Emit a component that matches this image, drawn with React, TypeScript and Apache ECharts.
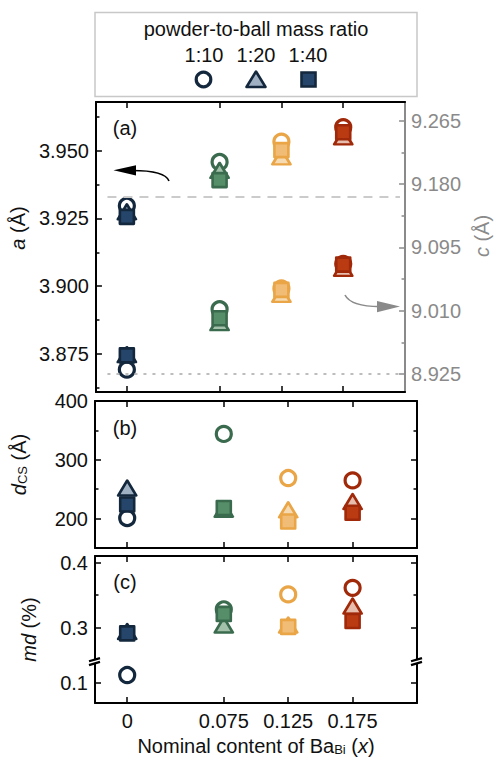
import React, { useEffect, useRef } from 'react';
import * as echarts from 'echarts';

// ---------- data ----------
const xValues = [0, 0.075, 0.125, 0.175];
const xTickLabels = ['0', '0.075', '0.125', '0.175'];
const ratioLabels = ['1:10', '1:20', '1:40'];

// panel (a): lattice parameter a (left axis)
const aRatio10 = [3.9297, 3.9459, 3.9534, 3.9588];
const aRatio20 = [3.9275, 3.9428, 3.9478, 3.9552];
const aRatio40 = [3.9256, 3.9392, 3.9503, 3.9569];
// panel (a): lattice parameter c (right axis)
const cRatio10 = [8.931, 9.012, 9.04, 9.073];
const cRatio20 = [8.951, 8.994, 9.032, 9.067];
const cRatio40 = [8.95, 9.0, 9.038, 9.072];
// panel (b): coherent scattering domain size
const dRatio10 = [201, 344, 269, 265];
const dRatio20 = [252, 216, 215, 229];
const dRatio40 = [224, 218, 195, 210];
// panel (c): microdeformation
const mdRatio10 = [0.112, 0.328, 0.351, 0.361];
const mdRatio20 = [0.294, 0.304, 0.304, 0.333];
const mdRatio40 = [0.291, 0.321, 0.301, 0.31];

// reference lines in panel (a)
const refA = 3.933;
const refC = 8.925;

// tick values
const aTicks = [3.875, 3.9, 3.925, 3.95];
const aMinor = [3.8625, 3.8875, 3.9125, 3.9375, 3.9625];
const cTicks = [8.925, 9.01, 9.095, 9.18, 9.265];
const cMinor = [8.9675, 9.0525, 9.1375, 9.2225];
const dTicks = [200, 300, 400];
const dMinor = [250, 350];
const mdTicks = [0.1, 0.3, 0.4];
const mdMinor = [0.35];

// colours per composition
const edgeColors = ['#14283d', '#3b6b4e', '#e9a546', '#a0290a'];
const squareFills = ['#25466a', '#568e69', '#f1bd76', '#ba3a12'];
const triangleFills = ['#a0b1c4', '#a3c0ab', '#f6dbb2', '#e7bdad'];

const FONT = '"Liberation Sans", Arial, Helvetica, sans-serif';
const X_MIN = -0.025;
const X_MAX = 0.225;
const GRAY = '#8a8a8a';

function xAxisFor(grid: number, position: string, showLabels: boolean, name?: string) {
  return {
    type: 'value',
    gridIndex: grid,
    position,
    min: X_MIN,
    max: X_MAX,
    axisLine: { show: true, onZero: false, lineStyle: { color: '#000', width: 2 } },
    axisTick: { show: true, inside: true, length: 6, customValues: xValues, lineStyle: { color: '#000', width: 1.5 } },
    axisLabel: {
      show: showLabels,
      customValues: xValues,
      formatter: (v: number) => {
        const i = xValues.findIndex((x) => Math.abs(x - v) < 1e-9);
        return i >= 0 ? xTickLabels[i] : '';
      },
      fontSize: 20,
      fontFamily: FONT,
      color: '#111',
      margin: 8,
    },
    splitLine: { show: false },
    name,
    nameLocation: 'middle',
    nameGap: 33,
    nameTextStyle: {
      fontSize: 20,
      fontFamily: FONT,
      color: '#111',
      rich: {
        sub: { fontSize: 13, fontFamily: FONT, color: '#111', verticalAlign: 'bottom', lineHeight: 6 },
        i: { fontSize: 20, fontFamily: FONT, color: '#111', fontStyle: 'italic' },
      },
    },
  };
}

function yAxisFor(o: any) {
  return {
    type: 'value',
    gridIndex: o.grid,
    position: o.pos,
    min: o.min,
    max: o.max,
    ...(o.breaks ? { breaks: o.breaks, breakArea: { show: false } } : {}),
    axisLine: { show: !!o.line, onZero: false, lineStyle: { color: o.color, width: 2 } },
    axisTick: { show: true, inside: true, length: o.tickLen, customValues: o.ticks, lineStyle: { color: o.color, width: 1.5 } },
    axisLabel: {
      show: !!o.fmt,
      customValues: o.ticks,
      formatter: o.fmt,
      fontSize: 20,
      fontFamily: FONT,
      color: o.labelColor || o.color,
      margin: o.margin ?? 7,
    },
    splitLine: { show: false },
    name: o.name,
    nameLocation: 'middle',
    nameGap: o.nameGap,
    nameRotate: 90,
    nameTextStyle: {
      fontSize: 20,
      fontFamily: FONT,
      color: o.labelColor || o.color,
      padding: o.namePad || 0,
      rich: {
        i: { fontSize: 20, fontFamily: FONT, fontStyle: 'italic', color: o.labelColor || o.color },
        sub: { fontSize: 13, fontFamily: FONT, color: o.labelColor || o.color, verticalAlign: 'bottom', lineHeight: 6 },
      },
    },
  };
}

function scatter(kind: 'circle' | 'triangle' | 'rect', values: number[], xIdx: number, yIdx: number, extra?: any) {
  const fill = kind === 'circle' ? null : kind === 'triangle' ? triangleFills : squareFills;
  return {
    type: 'scatter',
    xAxisIndex: xIdx,
    yAxisIndex: yIdx,
    symbol: kind,
    symbolSize: kind === 'circle' ? 15 : kind === 'triangle' ? [18, 15] : 14,
    z: kind === 'circle' ? 2 : kind === 'triangle' ? 3 : 4,
    data: xValues.map((x, i) => ({
      value: [x, values[i]],
      itemStyle: {
        color: fill ? fill[i] : 'rgba(255,255,255,0)',
        borderColor: edgeColors[i],
        borderWidth: kind === 'circle' ? 3.2 : 2.6,
        borderJoin: 'round',
        opacity: 1,
      },
    })),
    emphasis: { disabled: true },
    ...(extra || {}),
  };
}

export default function App() {
  const ref = useRef<HTMLDivElement>(null);
  useEffect(() => {
    if (!ref.current) return;
    const chart = echarts.init(ref.current, undefined, { renderer: 'svg' });

    const grids = [
      { left: 95, width: 322, top: 102, height: 290 },
      { left: 95, width: 322, top: 401, height: 147 },
      { left: 95, width: 322, top: 556, height: 147 },
    ];

    const xAxis = [
      xAxisFor(0, 'bottom', false), // 0
      xAxisFor(0, 'top', false), // 1
      xAxisFor(1, 'bottom', false), // 2
      xAxisFor(1, 'top', false), // 3
      xAxisFor(2, 'bottom', true, 'Nominal content of Ba{sub|Bi} ({i|x})'), // 4
      xAxisFor(2, 'top', false), // 5
    ];

    const mdBreak = [{ start: 0.132, end: 0.247, gap: 0 }];
    const yAxis = [
      // grid 0
      yAxisFor({ grid: 0, pos: 'left', min: 3.8608, max: 3.9681, line: true, color: '#000', labelColor: '#111', tickLen: 6, ticks: aTicks, fmt: (v: number) => v.toFixed(3), name: '{i|a} (Å)', nameGap: 66, namePad: [0, 0, 0, 38] }), // 0
      yAxisFor({ grid: 0, pos: 'right', min: 8.9008, max: 9.2905, line: true, color: GRAY, tickLen: 6, ticks: cTicks, fmt: (v: number) => v.toFixed(3), margin: 6, name: '{i|c} (Å)', nameGap: 66, namePad: [0, 0, 0, 22] }), // 1
      yAxisFor({ grid: 0, pos: 'left', min: 3.8608, max: 3.9681, line: false, color: '#000', tickLen: 3.5, ticks: aMinor }), // 2
      yAxisFor({ grid: 0, pos: 'right', min: 8.9008, max: 9.2905, line: false, color: GRAY, tickLen: 3.5, ticks: cMinor }), // 3
      // grid 1
      yAxisFor({ grid: 1, pos: 'left', min: 150, max: 400, line: true, color: '#000', labelColor: '#111', tickLen: 6, ticks: dTicks, fmt: (v: number) => v.toFixed(0), name: '{i|d}{sub|CS} (Å)', nameGap: 66, namePad: [0, 0, 0, 20] }), // 4
      yAxisFor({ grid: 1, pos: 'right', min: 150, max: 400, line: true, color: '#000', tickLen: 6, ticks: dTicks }), // 5
      yAxisFor({ grid: 1, pos: 'left', min: 150, max: 400, line: false, color: '#000', tickLen: 3.5, ticks: dMinor }), // 6
      yAxisFor({ grid: 1, pos: 'right', min: 150, max: 400, line: false, color: '#000', tickLen: 3.5, ticks: dMinor }), // 7
      // grid 2
      yAxisFor({ grid: 2, pos: 'left', min: 0.069, max: 0.41, breaks: mdBreak, line: true, color: '#000', labelColor: '#111', tickLen: 6, ticks: mdTicks, fmt: (v: number) => v.toFixed(1), name: '{i|md} (%)', nameGap: 56, namePad: [0, 0, 0, 0] }), // 8
      yAxisFor({ grid: 2, pos: 'right', min: 0.069, max: 0.41, breaks: mdBreak, line: true, color: '#000', tickLen: 6, ticks: mdTicks }), // 9
      yAxisFor({ grid: 2, pos: 'left', min: 0.069, max: 0.41, breaks: mdBreak, line: false, color: '#000', tickLen: 3.5, ticks: mdMinor }), // 10
      yAxisFor({ grid: 2, pos: 'right', min: 0.069, max: 0.41, breaks: mdBreak, line: false, color: '#000', tickLen: 3.5, ticks: mdMinor }), // 11
    ];

    const series: any[] = [
      scatter('circle', aRatio10, 0, 0, {
        markLine: {
          silent: true,
          symbol: 'none',
          label: { show: false },
          lineStyle: { type: [9, 7], color: '#cbcbcb', width: 2 },
          data: [[{ coord: [-0.0157, refA] }, { coord: [0.2209, refA] }]],
        },
      }),
      scatter('triangle', aRatio20, 0, 0),
      scatter('rect', aRatio40, 0, 0),
      scatter('circle', cRatio10, 0, 1, {
        markLine: {
          silent: true,
          symbol: 'none',
          label: { show: false },
          lineStyle: { type: [3, 6], color: '#bdbdbd', width: 2 },
          data: [[{ coord: [-0.0157, refC] }, { coord: [0.2209, refC] }]],
        },
      }),
      scatter('triangle', cRatio20, 0, 1),
      scatter('rect', cRatio40, 0, 1),
      scatter('circle', dRatio10, 2, 4),
      scatter('triangle', dRatio20, 2, 4),
      scatter('rect', dRatio40, 2, 4),
      scatter('circle', mdRatio10, 4, 8),
      scatter('triangle', mdRatio20, 4, 8),
      scatter('rect', mdRatio40, 4, 8),
    ];

    const legendEdge = edgeColors[0];
    const txt = (text: string, x: number, y: number, extra?: any) => ({
      type: 'text',
      x,
      y,
      z: 100,
      style: { text, fontSize: 20, fontFamily: FONT, fill: '#111', align: 'center', verticalAlign: 'middle', ...(extra || {}) },
    });

    const breakMark = (cx: number, cy: number) => ({
      type: 'group',
      z: 100,
      children: [
        { type: 'rect', shape: { x: cx - 5, y: cy - 1.6, width: 10, height: 3.2 }, style: { fill: '#fff' }, z: 100 },
        { type: 'line', shape: { x1: cx - 6, y1: cy - 0.4, x2: cx + 5, y2: cy - 3.6 }, style: { stroke: '#000', lineWidth: 2.2 }, z: 101 },
        { type: 'line', shape: { x1: cx - 6, y1: cy + 3.4, x2: cx + 5, y2: cy + 0.2 }, style: { stroke: '#000', lineWidth: 2.2 }, z: 101 },
      ],
    });

    const graphic: any[] = [
      // legend box
      { type: 'rect', shape: { x: 95, y: 12.5, width: 322, height: 84 }, style: { fill: 'none', stroke: '#c8c8c8', lineWidth: 1.5 }, z: 100 },
      txt('powder-to-ball mass ratio', 256, 29),
      txt(ratioLabels[0], 204, 55),
      txt(ratioLabels[1], 256, 55),
      txt(ratioLabels[2], 308, 55),
      { type: 'circle', shape: { cx: 203.5, cy: 79.5, r: 7.3 }, style: { fill: 'none', stroke: legendEdge, lineWidth: 3.2 }, z: 100 },
      { type: 'polygon', shape: { points: [[256, 71.5], [265.5, 87], [246.5, 87]] }, style: { fill: triangleFills[0], stroke: legendEdge, lineWidth: 2.6, lineJoin: 'round' }, z: 100 },
      { type: 'rect', shape: { x: 301.5, y: 72.5, width: 14, height: 14 }, style: { fill: squareFills[0], stroke: legendEdge, lineWidth: 2.6 }, z: 100 },
      // panel labels
      txt('(a)', 125, 128),
      txt('(b)', 125, 428),
      txt('(c)', 125, 582),
      // black arrow to left axis
      { type: 'bezierCurve', shape: { x1: 169, y1: 181, cpx1: 166, cpy1: 173, cpx2: 152, cpy2: 170.5, x2: 132, y2: 170.5 }, style: { stroke: '#000', lineWidth: 1.6, fill: 'none' }, z: 100 },
      { type: 'polygon', shape: { points: [[113.5, 170.3], [136, 165.2], [136, 175.4]] }, style: { fill: '#000' }, z: 100 },
      // gray arrow to right axis
      { type: 'bezierCurve', shape: { x1: 345, y1: 295, cpx1: 349, cpy1: 303, cpx2: 362, cpy2: 306.5, x2: 380, y2: 306.6 }, style: { stroke: GRAY, lineWidth: 1.6, fill: 'none' }, z: 100 },
      { type: 'polygon', shape: { points: [[400, 306.6], [377, 301], [377, 312.2]] }, style: { fill: GRAY }, z: 100 },
      // axis break marks
      breakMark(95, 661.7),
      breakMark(417, 661.7),
    ];

    chart.setOption({
      animation: false,
      backgroundColor: '#fff',
      textStyle: { fontFamily: FONT },
      grid: grids,
      xAxis,
      yAxis,
      series,
      graphic,
    });
    return () => chart.dispose();
  }, []);

  return <div ref={ref} style={{ position: 'absolute', left: 0, top: 0, width: 500, height: 762 }} />;
}
